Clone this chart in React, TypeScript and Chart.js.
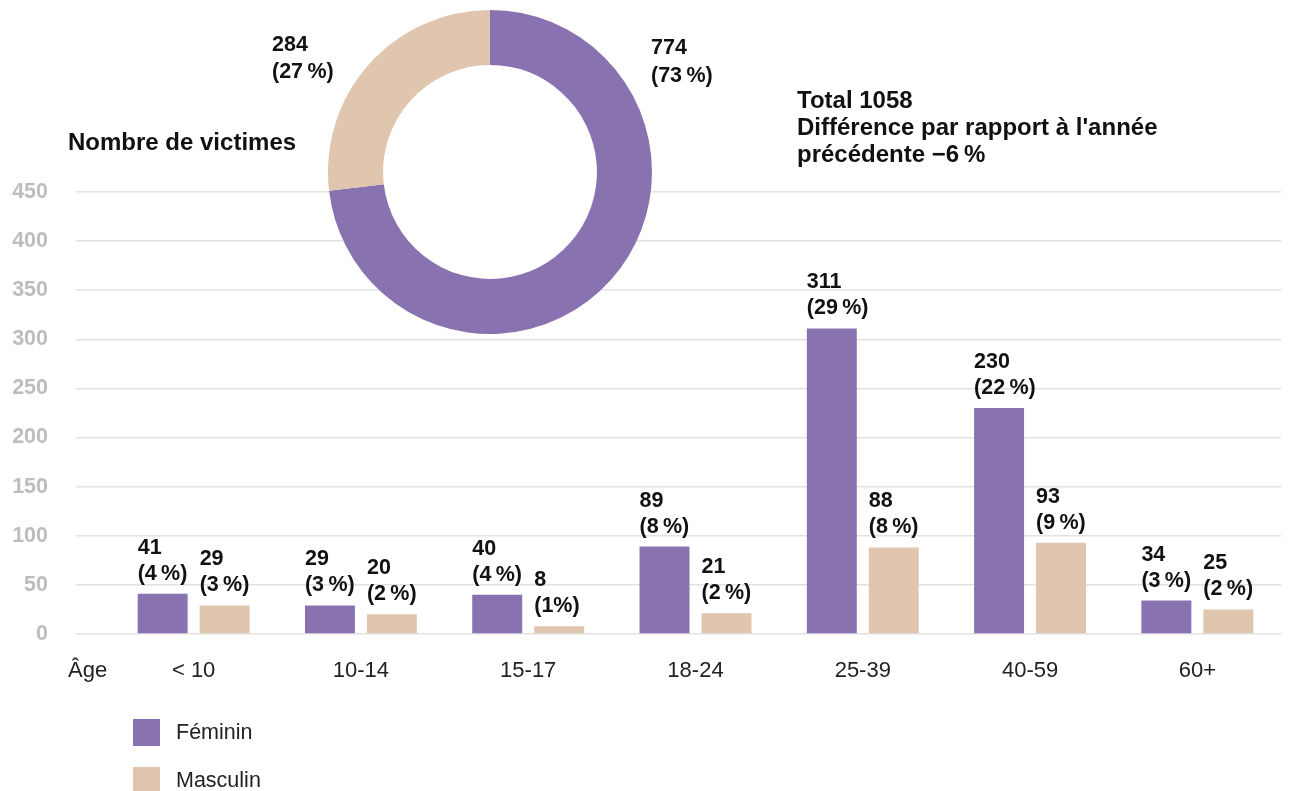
import React, { useEffect, useRef } from "react";
import { Chart, registerables } from "chart.js";

Chart.register(...registerables);

// ---------- data ----------
const categories = ["< 10", "10-14", "15-17", "18-24", "25-39", "40-59", "60+"];
const femininValues = [41, 29, 40, 89, 311, 230, 34];
const masculinValues = [29, 20, 8, 21, 88, 93, 25];
const femininPct = ["4\u2009%", "3\u2009%", "4\u2009%", "8\u2009%", "29\u2009%", "22\u2009%", "3\u2009%"];
const masculinPct = ["3\u2009%", "2\u2009%", "1%", "2\u2009%", "8\u2009%", "9\u2009%", "2\u2009%"];
const yMin = 0;
const yMax = 450;
const yStep = 50;
const seriesNames = ["Féminin", "Masculin"];
const genderTotals = [774, 284];
const genderPct = ["73\u2009%", "27\u2009%"];
const totalVictims = 1058;
const yearChange = "\u22126\u2009%";
const yAxisTitle = "Nombre de victimes";
const xAxisTitle = "Âge";

// ---------- styles ----------
const PURPLE = "#8872B0";
const BEIGE = "#E0C6AE";
const FONT = "'Liberation Sans', Arial, Helvetica, sans-serif";
const TEXT = "#111111";

const W = 1289;
const H = 791;

const barLabelPlugin = {
  id: "barLabels",
  afterDatasetsDraw(chart: any) {
    const ctx = chart.ctx;
    const sets = [
      { values: femininValues, pct: femininPct },
      { values: masculinValues, pct: masculinPct },
    ];
    ctx.save();
    ctx.fillStyle = TEXT;
    ctx.font = `bold 21.5px ${FONT}`;
    ctx.textAlign = "left";
    ctx.textBaseline = "middle";
    sets.forEach((s, di) => {
      const meta = chart.getDatasetMeta(di);
      meta.data.forEach((bar: any, j: number) => {
        const p = bar.getProps(["x", "y", "width"], true);
        const left = p.x - p.width / 2;
        ctx.fillText(String(s.values[j]), left, p.y - 46);
        ctx.fillText(`(${s.pct[j]})`, left, p.y - 20);
      });
    });
    ctx.restore();
  },
  afterDraw(chart: any) {
    const ctx = chart.ctx;
    ctx.save();
    ctx.textAlign = "left";
    ctx.textBaseline = "middle";
    ctx.fillStyle = TEXT;
    // titles
    ctx.font = `bold 24px ${FONT}`;
    ctx.fillText(yAxisTitle, 68, 143);
    ctx.fillText(`Total ${totalVictims}`, 797, 101);
    ctx.fillText("Différence par rapport à l'année", 797, 128);
    ctx.fillText(`précédente ${yearChange}`, 797, 155);
    // donut labels
    ctx.font = `bold 21.5px ${FONT}`;
    ctx.fillText(String(genderTotals[1]), 272, 45);
    ctx.fillText(`(${genderPct[1]})`, 272, 72);
    ctx.fillText(String(genderTotals[0]), 651, 48);
    ctx.fillText(`(${genderPct[0]})`, 651, 76);
    // x axis title
    ctx.font = `22px ${FONT}`;
    ctx.fillStyle = "#222222";
    ctx.fillText(xAxisTitle, 68, 671);
    // legend
    const colors = [PURPLE, BEIGE];
    seriesNames.forEach((n, i) => {
      const y = 719 + i * 48;
      ctx.fillStyle = colors[i];
      ctx.fillRect(133, y, 27, 27);
      ctx.fillStyle = "#222222";
      ctx.font = `21.5px ${FONT}`;
      ctx.fillText(n, 176, y + 14);
    });
    ctx.restore();
  },
};

const holePlugin = {
  id: "whiteHole",
  beforeDatasetsDraw(chart: any) {
    const meta = chart.getDatasetMeta(0);
    const arc = meta.data[0];
    if (!arc) return;
    const p = arc.getProps(["x", "y", "outerRadius"], true);
    const ctx = chart.ctx;
    ctx.save();
    ctx.fillStyle = "#ffffff";
    ctx.beginPath();
    ctx.arc(p.x, p.y, p.outerRadius, 0, Math.PI * 2);
    ctx.fill();
    ctx.restore();
  },
};

export default function App() {
  const barRef = useRef<HTMLCanvasElement | null>(null);
  const donutRef = useRef<HTMLCanvasElement | null>(null);

  useEffect(() => {
    if (!barRef.current || !donutRef.current) return;
    const bar = new Chart(barRef.current, {
      type: "bar",
      data: {
        labels: categories,
        datasets: [
          {
            label: seriesNames[0],
            data: femininValues,
            backgroundColor: PURPLE,
            categoryPercentage: 0.741,
            barPercentage: 0.806,
          },
          {
            label: seriesNames[1],
            data: masculinValues,
            backgroundColor: BEIGE,
            categoryPercentage: 0.741,
            barPercentage: 0.806,
          },
        ],
      },
      options: {
        responsive: false,
        animation: false,
        layout: { padding: { left: 0, right: 8, top: 192, bottom: 0 } },
        plugins: {
          legend: { display: false },
          tooltip: { enabled: false },
        },
        scales: {
          x: {
            grid: { display: false, drawTicks: false },
            border: { display: false },
            ticks: {
              color: "#222222",
              font: { family: FONT, size: 22 },
              padding: 24,
            },
            afterFit: (s: any) => {
              s.height = 157;
            },
          },
          y: {
            min: yMin,
            max: yMax,
            ticks: {
              stepSize: yStep,
              color: "#BDBDBD",
              font: { family: FONT, size: 21.5, weight: "bold" },
              padding: 28,
            },
            grid: {
              color: "#E2E2E2",
              lineWidth: 1.5,
              drawTicks: true,
              tickLength: 34,
            },
            border: { display: false },
            afterFit: (s: any) => {
              s.width = 110;
            },
          },
        },
      } as any,
      plugins: [barLabelPlugin],
    });

    const donut = new Chart(donutRef.current, {
      type: "doughnut",
      data: {
        labels: seriesNames,
        datasets: [
          {
            data: genderTotals,
            backgroundColor: [PURPLE, BEIGE],
            borderWidth: 0,
            offset: 0,
            hoverOffset: 0,
          },
        ],
      },
      options: {
        responsive: false,
        animation: false,
        cutout: "66%",
        layout: { padding: 0 },
        plugins: {
          legend: { display: false },
          tooltip: { enabled: false },
        },
      } as any,
      plugins: [holePlugin],
    });

    return () => {
      bar.destroy();
      donut.destroy();
    };
  }, []);

  return (
    <div
      style={{
        position: "fixed",
        left: 0,
        top: 0,
        width: W,
        height: H,
        background: "#ffffff",
      }}
    >
      <canvas
        ref={barRef}
        width={W}
        height={H}
        style={{ position: "absolute", left: 0, top: 0, width: W, height: H }}
      />
      <canvas
        ref={donutRef}
        width={324}
        height={324}
        style={{ position: "absolute", left: 328, top: 10, width: 324, height: 324 }}
      />
    </div>
  );
}
